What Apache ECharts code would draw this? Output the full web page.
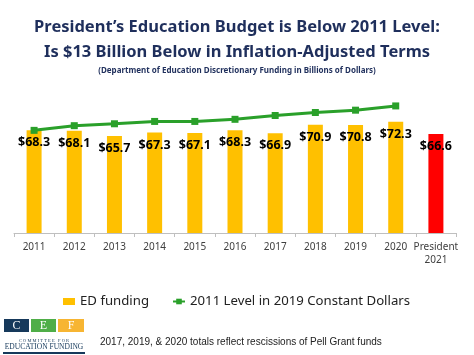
<!DOCTYPE html>
<html>
<head>
<meta charset="utf-8">
<script src="https://cdn.jsdelivr.net/npm/echarts@6/dist/echarts.min.js"></script>
<style>html,body{margin:0;padding:0;background:#fff;}#c{width:474px;height:355px;}</style>
</head>
<body>
<div id="c"></div>
<script>
const categories = ['2011','2012','2013','2014','2015','2016','2017','2018','2019','2020','President\n2021'];
const edFunding = [68.3,68.1,65.7,67.3,67.1,68.3,66.9,70.9,70.8,72.3,66.6];
const level2011 = [68.3,70.5,71.4,72.5,72.5,73.5,75.3,76.7,77.8,79.8,null];
const titleLine1 = 'President\u2019s Education Budget is Below 2011 Level:';
const titleLine2 = 'Is $13 Billion Below in Inflation-Adjusted Terms';
const subtitle = '(Department of Education Discretionary Funding in Billions of Dollars)';
const footnote = '2017, 2019, & 2020 totals reflect rescissions of Pell Grant funds';

const navy = '#1F2F5C';
const chart = echarts.init(document.getElementById('c'), null, {renderer:'canvas'});
chart.setOption({
  animation:false,
  backgroundColor:'#fff',
  title:[
    {text:titleLine1,left:'center',top:14,textStyle:{fontFamily:'Noto Sans',fontWeight:'bold',fontSize:16.5,color:navy}},
    {text:titleLine2,left:'center',top:39,textStyle:{fontFamily:'Noto Sans',fontWeight:'bold',fontSize:16.5,color:navy}},
    {text:subtitle,left:'center',top:62,textStyle:{fontFamily:'Noto Sans',fontWeight:'bold',fontSize:8,color:navy}}
  ],
  legend:{
    left:58, top:290, itemGap:23, itemWidth:12, itemHeight:7,
    textStyle:{fontFamily:'Noto Sans',fontSize:13.2,color:'#222'},
    data:[{name:'ED funding',icon:'rect'},{name:'2011 Level in 2019 Constant Dollars'}]
  },
  grid:{left:14,right:18,top:63,bottom:122},
  xAxis:{
    type:'category',data:categories,
    axisLine:{lineStyle:{color:'#bfbfbf'}},
    axisTick:{show:true,length:4,lineStyle:{color:'#bfbfbf'}},
    axisLabel:{fontFamily:'Noto Sans',fontSize:10,color:'#404040',margin:8,lineHeight:13,interval:0}
  },
  yAxis:{type:'value',min:20,max:100,show:false,splitLine:{show:false}},
  series:[
    {
      name:'ED funding',type:'bar',barWidth:15,
      itemStyle:{color:'#FFC000'},
      data:edFunding.map((v,i)=> i===edFunding.length-1 ? {value:v,itemStyle:{color:'#FF0000'}} : v),
      label:{show:true,position:'insideTop',distance:6,formatter:p=>'$'+p.value.toFixed(1),
        fontFamily:'Noto Sans',fontWeight:'bold',fontSize:12.5,color:'#000'}
    },
    {
      name:'2011 Level in 2019 Constant Dollars',type:'line',data:level2011,
      symbol:'rect',symbolSize:7,
      lineStyle:{color:'#2AA02A',width:3},
      itemStyle:{color:'#2AA02A'},z:5
    }
  ],
  graphic:[
    {type:'rect',shape:{x:4,y:319,width:25,height:13},style:{fill:'#16395B'}},
    {type:'rect',shape:{x:31,y:319,width:25,height:13},style:{fill:'#4FAE48'}},
    {type:'rect',shape:{x:58,y:319,width:26,height:13},style:{fill:'#F7B532'}},
    {type:'text',x:16.5,y:325.5,style:{text:'C',fill:'#fff',font:'12px "Liberation Serif"',align:'center',verticalAlign:'middle'}},
    {type:'text',x:43.5,y:325.5,style:{text:'E',fill:'#fff',font:'12px "Liberation Serif"',align:'center',verticalAlign:'middle'}},
    {type:'text',x:71,y:325.5,style:{text:'F',fill:'#fff',font:'12px "Liberation Serif"',align:'center',verticalAlign:'middle'}},
    {type:'text',x:44,y:340.5,style:{text:'C O M M I T T E E   F O R',fill:'#16395B',font:'4.5px "Liberation Serif"',align:'center',verticalAlign:'middle'}},
    {type:'text',x:44,y:347,style:{text:'EDUCATION FUNDING',fill:'#16395B',font:'7.5px "Liberation Serif"',align:'center',verticalAlign:'middle'}},
    {type:'rect',shape:{x:3,y:352,width:82,height:2},style:{fill:'#16395B'}},
    {type:'text',x:100,y:342,style:{text:footnote,fill:'#222',font:'10px "Liberation Sans"',align:'left',verticalAlign:'middle'}}
  ]
});
</script>
</body>
</html>
